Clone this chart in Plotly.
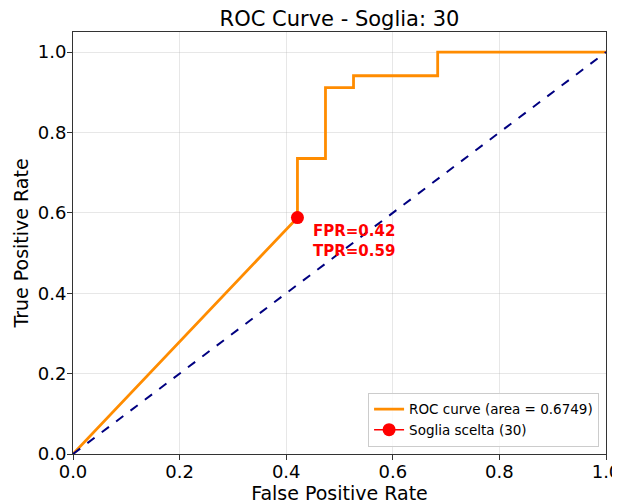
import plotly.graph_objects as go

# ROC curve points
fpr = [0.0, 0.4211, 0.4211, 0.4737, 0.4737, 0.5263, 0.5263, 0.6842, 0.6842, 1.0]
tpr = [0.0, 0.5882, 0.7353, 0.7353, 0.9118, 0.9118, 0.9412, 0.9412, 1.0, 1.0]
diag_x = [0.0, 1.0]
diag_y = [0.0, 1.0]
chosen_fpr = [0.4211]
chosen_tpr = [0.5882]
roc_auc = 0.6749
threshold = 30
ticks = [0.0, 0.2, 0.4, 0.6, 0.8, 1.0]
tick_labels = ["0.0", "0.2", "0.4", "0.6", "0.8", "1.0"]

font = "DejaVu Sans"

fig = go.Figure()
fig.add_trace(go.Scatter(
    x=fpr, y=tpr, mode="lines",
    line=dict(color="darkorange", width=2.8),
    name=f"ROC curve (area = {roc_auc:.4f})",
))
fig.add_trace(go.Scatter(
    x=diag_x, y=diag_y, mode="lines",
    line=dict(color="navy", width=2, dash="dash"),
    showlegend=False,
))
fig.add_trace(go.Scatter(
    x=chosen_fpr, y=chosen_tpr, mode="lines+markers",
    marker=dict(color="red", size=13),
    line=dict(color="red", width=1.5),
    name=f"Soglia scelta ({threshold})",
))

fig.add_annotation(
    x=chosen_fpr[0], y=chosen_tpr[0],
    text=f"<b>FPR={chosen_fpr[0]:.2f}<br>TPR={chosen_tpr[0]:.2f}</b>",
    showarrow=False, xanchor="left", yanchor="top", align="left",
    xshift=14, yshift=-2,
    font=dict(family=font, size=15, color="red"),
)

axis_common = dict(
    showline=True, mirror=True, linecolor="#333333", linewidth=1,
    ticks="outside", ticklen=5, tickcolor="#333333",
    showgrid=True, gridcolor="rgba(176,176,176,0.3)", gridwidth=1,
    zeroline=False, automargin=False, ticklabeloverflow="allow",
    tickfont=dict(family=font, size=18, color="black"),
    tickvals=ticks, ticktext=tick_labels,
)

# page body has an 8px offset; figure sized so the plot sits where the reference does
fig.update_layout(
    width=612, height=496,
    margin=dict(l=65, r=14, t=24, b=50),
    paper_bgcolor="white", plot_bgcolor="white",
    title=dict(text=f"ROC Curve - Soglia: {threshold}", x=0.5, xanchor="center",
               xref="paper", y=0.978, yanchor="middle",
               font=dict(family=font, size=21, color="black")),
    xaxis=dict(range=[0, 1], ticklabelstandoff=-4,
               title=dict(text="False Positive Rate", standoff=4,
                          font=dict(family=font, size=19, color="black")), **axis_common),
    yaxis=dict(range=[0, 1.05], ticklabelstandoff=-3,
               title=dict(text="True Positive Rate", standoff=4,
                          font=dict(family=font, size=19, color="black")), **axis_common),
    legend=dict(x=0.987, y=0.017, xanchor="right", yanchor="bottom",
                bgcolor="rgba(255,255,255,0.8)", bordercolor="#cccccc", borderwidth=1,
                font=dict(family=font, size=13.5, color="black"),
                tracegroupgap=0, itemwidth=30),
    showlegend=True,
)

fig.write_html("out.html")
